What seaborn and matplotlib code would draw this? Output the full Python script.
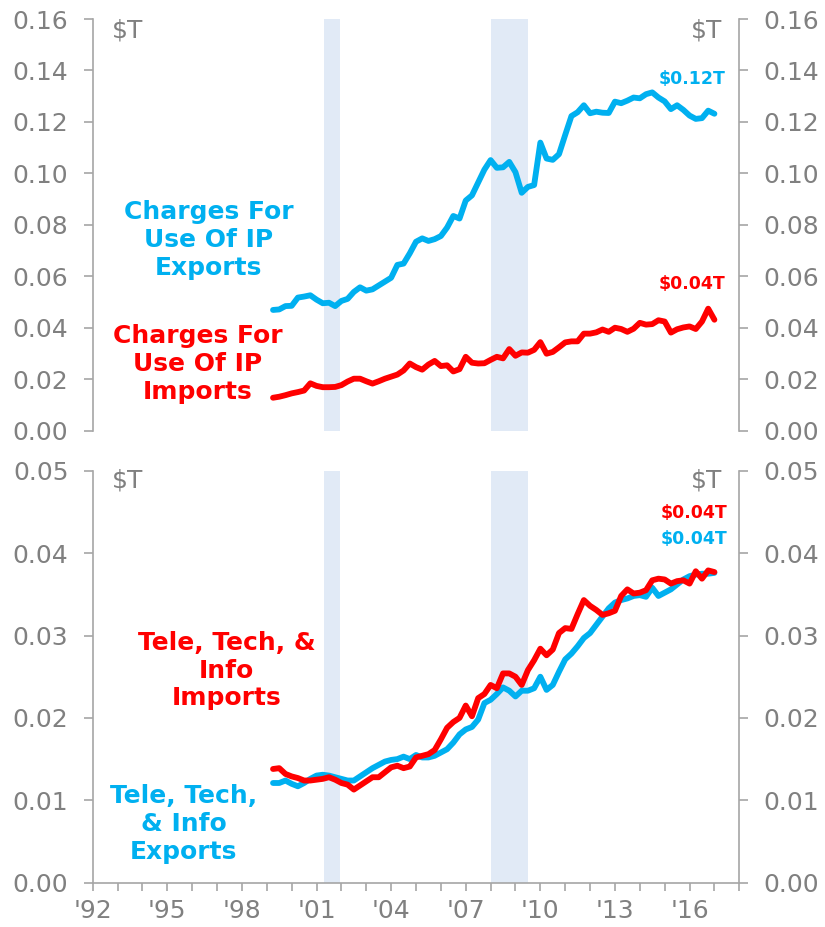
import numpy as np
import pandas as pd
import matplotlib
matplotlib.use("Agg")
import matplotlib.pyplot as plt
import seaborn as sns
from matplotlib.ticker import MultipleLocator, FixedLocator, FuncFormatter

# ---------------- data ----------------
start_year = 1999.25
n_quarters = 72
dates = [start_year + 0.25 * k for k in range(n_quarters)]

ip_exports = [0.0470, 0.0472, 0.0485, 0.0486, 0.0518, 0.0522, 0.0527, 0.0510, 0.0496, 0.0498,
              0.0485, 0.0505, 0.0513, 0.0540, 0.0558, 0.0545, 0.0550, 0.0565, 0.0580, 0.0595,
              0.0645, 0.0650, 0.0690, 0.0735, 0.0748, 0.0738, 0.0745, 0.0757, 0.0790, 0.0835,
              0.0825, 0.0895, 0.0915, 0.0965, 0.1015, 0.1052, 0.1022, 0.1024, 0.1045, 0.1005,
              0.0925, 0.0948, 0.0955, 0.1120, 0.1058, 0.1053, 0.1075, 0.1150, 0.1223, 0.1238,
              0.1265, 0.1234, 0.1240, 0.1236, 0.1235, 0.1279, 0.1273, 0.1283, 0.1295, 0.1292,
              0.1308, 0.1315, 0.1295, 0.1280, 0.1250, 0.1265, 0.1247, 0.1225, 0.1212, 0.1215,
              0.1244, 0.1232]

ip_imports = [0.0129, 0.0133, 0.0139, 0.0146, 0.0151, 0.0157, 0.0185, 0.0175, 0.0170, 0.0170,
              0.0171, 0.0178, 0.0192, 0.0203, 0.0203, 0.0193, 0.0184, 0.0193, 0.0203, 0.0211,
              0.0219, 0.0235, 0.0262, 0.0248, 0.0238, 0.0258, 0.0272, 0.0252, 0.0255, 0.0231,
              0.0240, 0.0288, 0.0265, 0.0262, 0.0263, 0.0276, 0.0288, 0.0282, 0.0318, 0.0292,
              0.0305, 0.0304, 0.0315, 0.0345, 0.0300, 0.0307, 0.0325, 0.0344, 0.0348, 0.0348,
              0.0378, 0.0378, 0.0383, 0.0394, 0.0385, 0.0401, 0.0396, 0.0385, 0.0397, 0.0420,
              0.0413, 0.0415, 0.0430, 0.0425, 0.0382, 0.0395, 0.0402, 0.0406, 0.0396, 0.0425,
              0.0475, 0.0432]

tti_exports = [0.0121, 0.0121, 0.0124, 0.0120, 0.0117, 0.0121, 0.0126, 0.0130, 0.0131, 0.0130,
               0.0128, 0.0126, 0.0124, 0.0124, 0.0129, 0.0134, 0.0139, 0.0143, 0.0147, 0.0149,
               0.0150, 0.0153, 0.0150, 0.0155, 0.0152, 0.0152, 0.0154, 0.0158, 0.0162, 0.0170,
               0.0180, 0.0186, 0.0189, 0.0198, 0.0218, 0.0222, 0.0229, 0.0237, 0.0233, 0.0226,
               0.0233, 0.0233, 0.0236, 0.0250, 0.0234, 0.0240, 0.0256, 0.0271, 0.0278, 0.0287,
               0.0297, 0.0303, 0.0313, 0.0323, 0.0333, 0.0340, 0.0343, 0.0345, 0.0348, 0.0349,
               0.0347, 0.0358, 0.0348, 0.0352, 0.0356, 0.0362, 0.0368, 0.0372, 0.0374, 0.0375,
               0.0375, 0.0376]

tti_imports = [0.0138, 0.0139, 0.0132, 0.0129, 0.0127, 0.0124, 0.0124, 0.0125, 0.0126, 0.0128,
               0.0125, 0.0121, 0.0119, 0.0113, 0.0118, 0.0123, 0.0128, 0.0128, 0.0134, 0.0140,
               0.0142, 0.0139, 0.0141, 0.0152, 0.0154, 0.0156, 0.0161, 0.0174, 0.0188, 0.0195,
               0.0200, 0.0215, 0.0202, 0.0224, 0.0229, 0.0240, 0.0236, 0.0254, 0.0254, 0.0250,
               0.0240, 0.0258, 0.0270, 0.0284, 0.0276, 0.0283, 0.0303, 0.0309, 0.0308, 0.0326,
               0.0343, 0.0336, 0.0331, 0.0325, 0.0327, 0.0330, 0.0348, 0.0356, 0.0351, 0.0352,
               0.0355, 0.0367, 0.0369, 0.0368, 0.0363, 0.0366, 0.0367, 0.0363, 0.0378, 0.0369,
               0.0379, 0.0377]

recessions = [(2001.29, 2001.94), (2008.0, 2009.5)]

top_labels = ["Charges For\nUse Of IP\nExports", "Charges For\nUse Of IP\nImports"]
bottom_labels = ["Tele, Tech,\n& Info\nExports", "Tele, Tech, &\nInfo\nImports"]
x_tick_years = [1992, 1995, 1998, 2001, 2004, 2007, 2010, 2013, 2016]
top_yticks = [0.00, 0.02, 0.04, 0.06, 0.08, 0.10, 0.12, 0.14, 0.16]
bottom_yticks = [0.00, 0.01, 0.02, 0.03, 0.04, 0.05]
unit_label = "$T"

BLUE = "#00B0F0"
RED = "#FF0000"
GREY = "#808080"
SPINE = "#A6A6A6"
SHADE = "#E1EAF6"

# ---------------- style ----------------
sns.set_theme(style="white")
plt.rcParams["font.family"] = ["DejaVu Sans"]

fig = plt.figure(figsize=(8.25, 9.27), dpi=100)
ax_top = fig.add_axes([0.1124, 0.5351, 0.7837, 0.4444])
ax_bot = fig.add_axes([0.1124, 0.0478, 0.7837, 0.4444])

df_top = pd.DataFrame({
    "date": dates * 2,
    "value": ip_exports + ip_imports,
    "series": ["exp"] * n_quarters + ["imp"] * n_quarters,
})
df_bot = pd.DataFrame({
    "date": dates * 2,
    "value": tti_exports + tti_imports,
    "series": ["exp"] * n_quarters + ["imp"] * n_quarters,
})

def style_axis(ax, yticks, ylim, show_x):
    for s, e in recessions:
        ax.axvspan(s, e, color=SHADE, lw=0, zorder=0)
    ax.set_xlim(1992, 2018)
    ax.set_ylim(*ylim)
    ax.yaxis.set_major_locator(FixedLocator(yticks))
    ax.yaxis.set_major_formatter(FuncFormatter(lambda v, p: f"{v:.2f}"))
    ax.spines["top"].set_visible(False)
    for side in ("left", "right"):
        ax.spines[side].set_visible(True)
        ax.spines[side].set_color(SPINE)
        ax.spines[side].set_linewidth(1.2)
    ax.tick_params(axis="y", which="both", left=True, right=True, labelleft=True,
                   labelright=True, direction="out", length=6.5, width=1.2,
                   color=SPINE, labelcolor=GREY, labelsize=18, pad=11)
    ax.set_xlabel("")
    ax.set_ylabel("")
    ax.grid(False)
    if show_x:
        ax.spines["bottom"].set_visible(True)
        ax.spines["bottom"].set_color(SPINE)
        ax.spines["bottom"].set_linewidth(1.2)
        ax.xaxis.set_major_locator(FixedLocator(x_tick_years))
        ax.xaxis.set_minor_locator(MultipleLocator(1))
        ax.xaxis.set_major_formatter(FuncFormatter(lambda v, p: "'" + f"{int(round(v)) % 100:02d}"))
        ax.tick_params(axis="x", which="both", bottom=True, direction="out", length=6,
                       width=1.2, color=SPINE, labelcolor=GREY, labelsize=18, pad=6)
    else:
        ax.spines["bottom"].set_visible(False)
        ax.tick_params(axis="x", which="both", bottom=False, labelbottom=False)
        ax.set_xticks([])

sns.lineplot(data=df_top, x="date", y="value", hue="series", palette={"exp": BLUE, "imp": RED},
             linewidth=4.2, legend=False, ax=ax_top, sort=False, estimator=None)
sns.lineplot(data=df_bot, x="date", y="value", hue="series", palette={"exp": BLUE, "imp": RED},
             linewidth=4.2, legend=False, ax=ax_bot, sort=False, estimator=None)
for line in ax_top.lines + ax_bot.lines:
    line.set_solid_capstyle("round")
    line.set_solid_joinstyle("round")

style_axis(ax_top, top_yticks, (0, 0.16), show_x=False)
style_axis(ax_bot, bottom_yticks, (0, 0.05), show_x=True)

# unit labels
for ax, yf in ((ax_top, 0.973), (ax_bot, 0.976)):
    ax.text(0.03, yf, unit_label, transform=ax.transAxes, ha="left", va="center",
            fontsize=18, color=GREY)
    ax.text(0.974, yf, unit_label, transform=ax.transAxes, ha="right", va="center",
            fontsize=18, color=GREY)

# series labels
lab_kw = dict(ha="center", va="center", fontsize=18, fontweight="bold", linespacing=1.2,
              multialignment="center")
ax_top.text(1996.67, 0.0742, top_labels[0], color=BLUE, **lab_kw)
ax_top.text(1996.23, 0.0260, top_labels[1], color=RED, **lab_kw)
ax_bot.text(1995.66, 0.00712, bottom_labels[0], color=BLUE, **lab_kw)
ax_bot.text(1997.38, 0.02573, bottom_labels[1], color=RED, **lab_kw)

# last-value labels
val_kw = dict(ha="right", va="center", fontsize=12.5, fontweight="bold")
ax_top.text(0.978, 0.855, f"${ip_exports[-1]:.2f}T", transform=ax_top.transAxes, color=BLUE, **val_kw)
ax_top.text(0.978, 0.3575, f"${ip_imports[-1]:.2f}T", transform=ax_top.transAxes, color=RED, **val_kw)
ax_bot.text(0.982, 0.898, f"${tti_imports[-1]:.2f}T", transform=ax_bot.transAxes, color=RED, **val_kw)
ax_bot.text(0.982, 0.8335, f"${tti_exports[-1]:.2f}T", transform=ax_bot.transAxes, color=BLUE, **val_kw)

fig.savefig("out.png", dpi=100, facecolor="white")
